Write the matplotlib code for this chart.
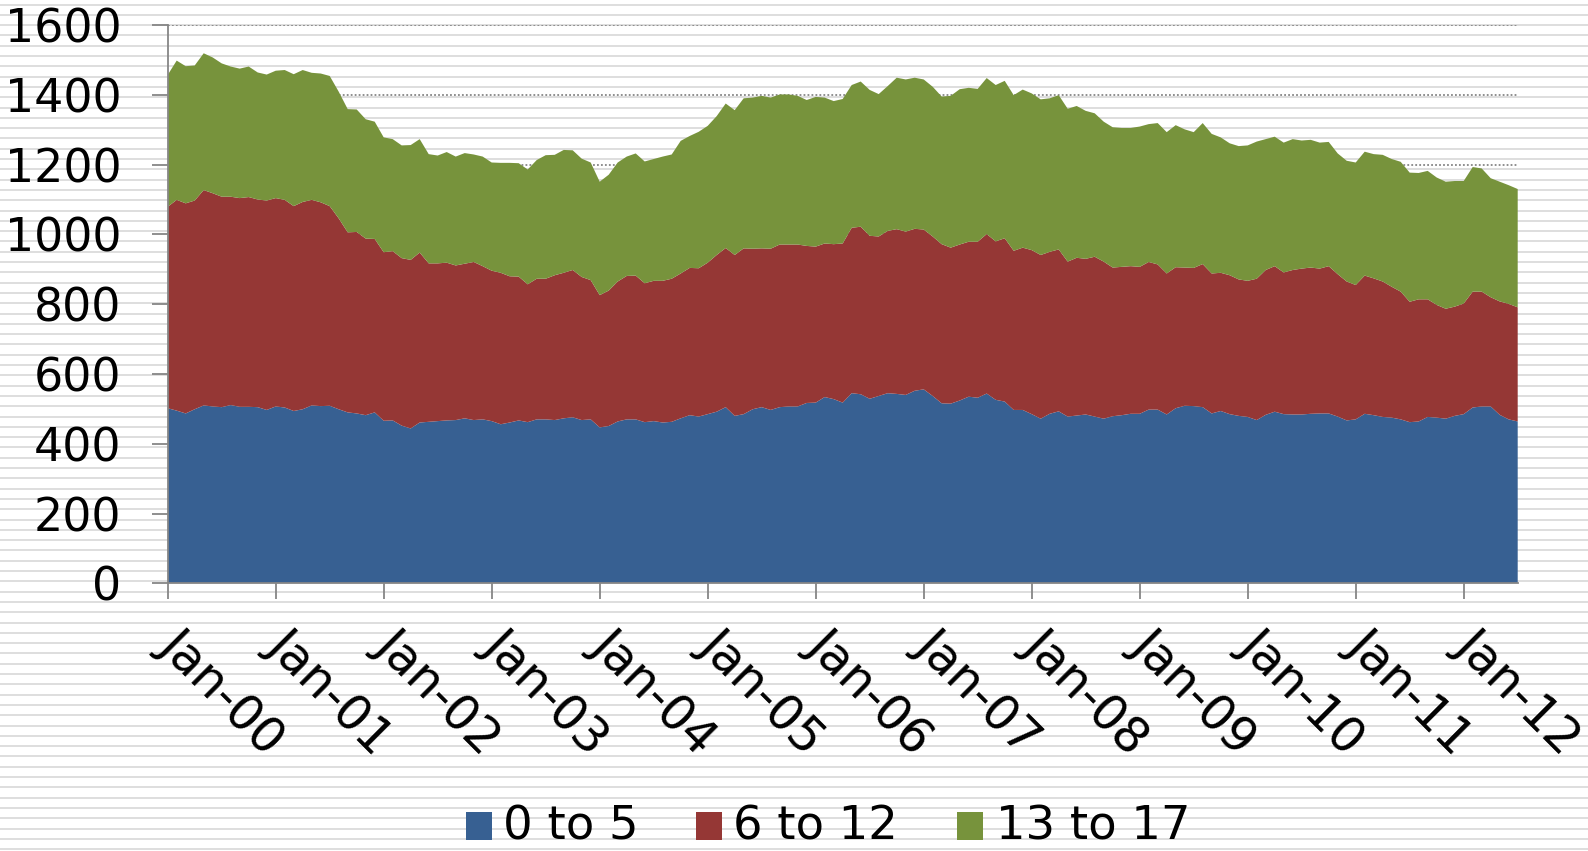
import matplotlib
matplotlib.use("Agg")
import matplotlib.pyplot as plt
from matplotlib.patches import Rectangle
import numpy as np

# ---- data (monthly, Jan 2000 .. Jul 2012) ----
age_0_5 = [502, 495, 487, 499, 510, 507, 505, 511, 506, 506, 505, 497,
           507, 504, 494, 499, 510, 508, 509, 499, 490, 487, 482, 490,
           466, 467, 452, 444, 461, 463, 465, 467, 468, 473, 468, 470,
           465, 456, 461, 467, 462, 470, 470, 468, 473, 476, 468, 470,
           447, 451, 464, 470, 470, 462, 465, 461, 463, 473, 482, 478,
           485, 492, 505, 480, 485, 499, 505, 497, 505, 507, 507, 517,
           518, 534, 528, 518, 545, 542, 529, 537, 545, 543, 540, 552,
           556, 537, 516, 515, 524, 535, 532, 544, 526, 521, 497, 497,
           485, 472, 486, 493, 478, 481, 484, 478, 472, 479, 482, 486,
           486, 498, 498, 484, 502, 509, 508, 505, 487, 494, 485, 480,
           477, 468, 483, 492, 485, 484, 484, 486, 487, 487, 478, 467,
           470, 486, 482, 477, 475, 470, 462, 464, 477, 475, 472, 480,
           485, 504, 507, 507, 483, 470, 464]
age_6_12 = [577, 604, 602, 598, 617, 611, 603, 597, 598, 601, 595, 600,
            597, 595, 587, 594, 589, 584, 572, 547, 516, 520, 506, 497,
            483, 485, 480, 483, 487, 454, 452, 452, 443, 443, 453, 439,
            431, 434, 419, 412, 395, 403, 403, 415, 417, 422, 410, 399,
            379, 388, 401, 411, 412, 398, 402, 406, 410, 415, 422, 425,
            434, 449, 456, 461, 475, 460, 455, 462, 466, 464, 464, 450,
            447, 440, 444, 456, 474, 480, 467, 457, 465, 472, 468, 464,
            458, 457, 456, 447, 447, 444, 447, 457, 454, 468, 456, 465,
            470, 469, 464, 464, 444, 452, 446, 458, 450, 426, 425, 423,
            421, 423, 416, 404, 404, 396, 396, 410, 401, 396, 398, 391,
            390, 405, 415, 417, 406, 414, 418, 419, 415, 422, 408, 398,
            385, 396, 392, 388, 375, 366, 345, 350, 337, 323, 315, 313,
            317, 332, 329, 313, 325, 331, 327]
age_13_17 = [378, 399, 393, 387, 392, 389, 382, 373, 371, 374, 364, 361,
             365, 372, 378, 378, 364, 369, 373, 363, 353, 351, 342, 336,
             329, 321, 323, 329, 325, 313, 309, 317, 312, 317, 308, 314,
             310, 315, 325, 325, 329, 340, 354, 345, 352, 343, 339, 337,
             325, 332, 341, 342, 350, 349, 349, 356, 356, 380, 378, 391,
             392, 398, 414, 415, 430, 433, 437, 433, 430, 430, 426, 418,
             429, 418, 410, 414, 409, 416, 418, 408, 415, 434, 436, 433,
             430, 429, 423, 435, 445, 441, 438, 447, 448, 451, 446, 453,
             449, 446, 440, 442, 438, 435, 424, 411, 401, 402, 398, 396,
             402, 395, 405, 405, 407, 396, 389, 404, 400, 388, 378, 382,
             388, 393, 375, 371, 372, 375, 367, 366, 361, 356, 346, 346,
             351, 355, 356, 363, 366, 372, 370, 362, 368, 365, 364, 360,
             351, 357, 353, 341, 343, 340, 339]

series_names = ["0 to 5", "6 to 12", "13 to 17"]
series_colors = ["#376092", "#953735", "#77933C"]
tick_labels = ["Jan-00", "Jan-01", "Jan-02", "Jan-03", "Jan-04", "Jan-05",
               "Jan-06", "Jan-07", "Jan-08", "Jan-09", "Jan-10", "Jan-11",
               "Jan-12"]

W, H = 1588, 851
fig = plt.figure(figsize=(W / 100, H / 100), dpi=100)
fig.patch.set_facecolor("white")

# striped background over the whole figure
bg = fig.add_axes([0, 0, 1, 1], zorder=-10)
bg.set_xlim(0, 1)
bg.set_ylim(H, 0)
bg.hlines(np.arange(4.5, H, 10.3), 0, 1, color="#dedede", lw=1.4)
bg.axis("off")

left, right, top, bottom = 167.7, 1517.7, 25.0, 583.4
ax = fig.add_axes([left / W, 1 - bottom / H, (right - left) / W, (bottom - top) / H])
ax.patch.set_alpha(0)

x = np.arange(len(age_0_5))
ax.stackplot(x, age_0_5, age_6_12, age_13_17, colors=series_colors,
             labels=series_names, linewidth=0, zorder=2)

ax.set_xlim(0, len(x) - 1)
ax.set_ylim(0, 1600)
ax.set_yticks(np.arange(0, 1601, 200))
ax.yaxis.grid(True, color="#868686", linestyle=(0, (1, 1.2)), lw=1.3, zorder=1)
ax.set_axisbelow(True)

for s in ["top", "right"]:
    ax.spines[s].set_visible(False)
for s in ["left", "bottom"]:
    ax.spines[s].set_color("#868686")
    ax.spines[s].set_linewidth(1.3)
    ax.spines[s].set_zorder(3)

ax.tick_params(axis="both", direction="out", length=11.3, width=1.3,
               color="#868686", labelcolor="black")
ax.tick_params(axis="y", labelsize=33, pad=22)

ax.set_xticks(np.arange(0, len(x), 12))
ax.set_xticklabels(tick_labels, rotation=-45, rotation_mode="anchor",
                   ha="left", va="center", fontsize=35)
ax.tick_params(axis="x", pad=27)

# legend at the bottom
leg_sq_x = [466, 696, 957]
leg_txt_x = [503, 733, 996]
for sx_, tx_, col, name in zip(leg_sq_x, leg_txt_x, series_colors, series_names):
    fig.add_artist(Rectangle((sx_ / W, 1 - 840 / H), 26 / W, 28 / H,
                             transform=fig.transFigure, facecolor=col,
                             edgecolor="none"))
    fig.text(tx_ / W, 1 - 840 / H, name, fontsize=33.5, ha="left",
             va="baseline", color="black")

fig.savefig("out.png", dpi=100, facecolor="white")
